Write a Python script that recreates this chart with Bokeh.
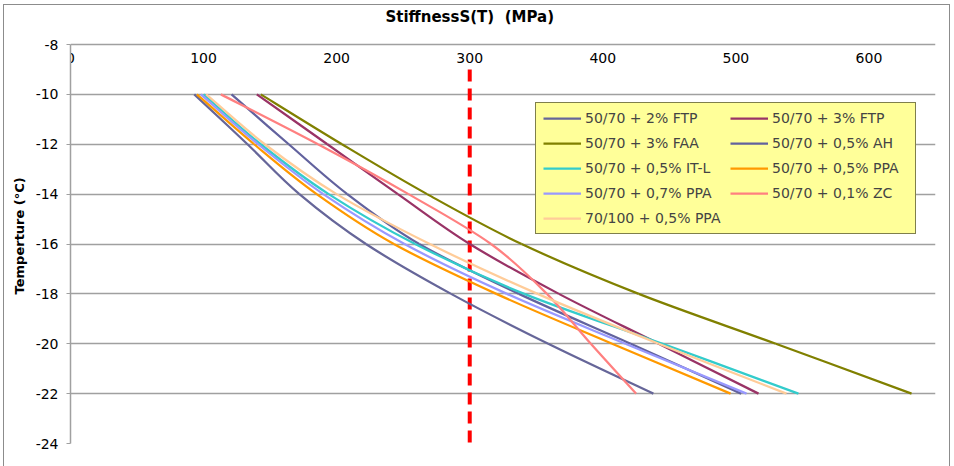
from bokeh.plotting import figure
from bokeh.models import (Range1d, LinearAxis, FixedTicker, Legend, LegendItem, Label)
from bokeh.embed import file_html
from bokeh.resources import INLINE

# ---- data ----
temps = [-10, -12, -14, -16, -18, -20, -22]
series_names = [
    "50/70 + 2% FTP", "50/70 + 3% FTP", "50/70 + 3% FAA", "50/70 + 0,5% AH",
    "50/70 + 0,5% IT-L", "50/70 + 0,5% PPA", "50/70 + 0,7% PPA", "50/70 + 0,1% ZC",
    "70/100 + 0,5% PPA",
]
s_2ftp = [93, 133, 172, 222, 286, 359, 438]
s_3ftp = [140, 193, 246, 300, 367, 442, 517]
s_3faa = [143, 204, 268, 339, 427, 530, 632]
s_ah = [121, 164, 208, 262, 337, 421, 504]
s_itl = [100, 143, 194, 259, 341, 445, 547]
s_05ppa = [95, 138, 185, 243, 320, 407, 496]
s_07ppa = [98, 141, 190, 251, 328, 417, 508]
s_zc = [113, 186, 254, 316, 358, 391, 425]
s_70100 = [102, 146, 200, 270, 351, 442, 538]
series_values = [s_2ftp, s_3ftp, s_3faa, s_ah, s_itl, s_05ppa, s_07ppa, s_zc, s_70100]
colors = ["#666699", "#993366", "#808000", "#62629E", "#33CCCC", "#FF9900",
          "#9999FF", "#FF8080", "#FFCC99"]

limit_x = [300, 300]
limit_y = [-9, -24.2]

x_ticks = [0, 100, 200, 300, 400, 500, 600]
y_ticks = [-24, -22, -20, -18, -16, -14, -12, -10, -8]
x_min, x_max = 0, 650
y_min, y_max = -24, -8

title_text = "StiffnessS(T)\u00a0 (MPa)"
y_title = "Temperture (\u00b0C)"

FONT = "DejaVu Sans"
GRID = "#A0A0A0"
BORDER = "#8C8C8C"

# layout in pixels
W, H = 954, 466
FRAME_TOP, AXIS_TOP, FRAME_BOTTOM = 5, 44, 443
# extend the value range upward so the title row sits inside the frame
px_per_deg = (FRAME_BOTTOM - AXIS_TOP) / (y_max - y_min)
y_view_top = y_max + (AXIS_TOP - FRAME_TOP) / px_per_deg
title_y = y_max + (AXIS_TOP - 16) / px_per_deg


def smooth_segments(xs, ys):
    """Bezier segments through the data points (Excel-style smoothed line)."""
    n = len(xs)
    seg = {k: [] for k in ("x0", "y0", "x1", "y1", "cx0", "cy0", "cx1", "cy1")}
    for i in range(n - 1):
        xa, ya_ = xs[max(i - 1, 0)], ys[max(i - 1, 0)]
        xb, yb = xs[i], ys[i]
        xc, yc = xs[i + 1], ys[i + 1]
        xd, yd = xs[min(i + 2, n - 1)], ys[min(i + 2, n - 1)]
        seg["x0"].append(xb); seg["y0"].append(yb)
        seg["x1"].append(xc); seg["y1"].append(yc)
        seg["cx0"].append(xb + (xc - xa) / 6.0); seg["cy0"].append(yb + (yc - ya_) / 6.0)
        seg["cx1"].append(xc - (xd - xb) / 6.0); seg["cy1"].append(yc - (yd - yb) / 6.0)
    return seg


p = figure(width=W, height=H, output_backend="svg", toolbar_location=None,
           x_range=Range1d(x_min, x_max), y_range=Range1d(y_min, y_view_top),
           x_axis_location=None, y_axis_location="left",
           min_border_left=70, min_border_top=FRAME_TOP, min_border_right=19,
           min_border_bottom=H - FRAME_BOTTOM)
p.title.visible = False
p.outline_line_color = None
p.background_fill_color = "white"
p.border_fill_color = "white"
p.border_fill_alpha = 0
p.styles = {
    "background": (
        f"linear-gradient({BORDER},{BORDER}) 3px 4px / 1px 480px no-repeat, "
        f"linear-gradient({BORDER},{BORDER}) 3px 4px / 947px 1px no-repeat, "
        f"linear-gradient({BORDER},{BORDER}) 949px 4px / 1px 480px no-repeat, "
        "white"
    )
}

# x axis drawn at the top line (y = -8), labels below it
xa = LinearAxis(fixed_location=y_max, ticker=FixedTicker(ticks=x_ticks))
xa.axis_line_color = None
xa.major_tick_out = 0
xa.major_tick_in = 0
xa.minor_tick_out = 0
xa.minor_tick_in = 0
xa.major_label_standoff = 8
xa.major_label_text_font = FONT
xa.major_label_text_font_size = "14px"
xa.major_label_text_color = "black"
p.add_layout(xa, "below")

ya = p.yaxis[0]
ya.ticker = FixedTicker(ticks=y_ticks)
ya.bounds = (y_min, y_max)
ya.major_label_overrides = {t: str(t) for t in y_ticks}
ya.axis_line_color = GRID
ya.axis_line_width = 1.5
ya.major_tick_out = 4
ya.major_tick_in = 0
ya.major_tick_line_color = GRID
ya.minor_tick_out = 0
ya.minor_tick_in = 0
ya.major_label_standoff = 8
ya.major_label_text_font = FONT
ya.major_label_text_font_size = "14px"
ya.major_label_text_color = "black"
ya.axis_label = y_title + "\u00a0" * 5
ya.axis_label_text_font = FONT
ya.axis_label_text_font_size = "13px"
ya.axis_label_text_font_style = "bold"
ya.axis_label_text_color = "black"
ya.axis_label_standoff = 6

p.xgrid.visible = False
p.ygrid.ticker = FixedTicker(ticks=y_ticks)
p.ygrid.grid_line_color = GRID
p.ygrid.grid_line_width = 1.5

# limit line at 300 MPa
p.line(limit_x, limit_y, line_color="#FF0000", line_width=4, line_dash="12 7")

renderers = []
for name, vals, col in zip(series_names, series_values, colors):
    seg = smooth_segments(vals, temps)
    r = p.bezier(source=seg, x0="x0", y0="y0", x1="x1", y1="y1",
                 cx0="cx0", cy0="cy0", cx1="cx1", cy1="cy1",
                 line_color=col, line_width=2.25)
    renderers.append(r)

items = [LegendItem(label=n, renderers=[r]) for n, r in zip(series_names, renderers)]
legend = Legend(items=items, location=(465, 209), orientation="horizontal", ncols=2,
                background_fill_color="#FFFF99", background_fill_alpha=1,
                border_line_color="black", border_line_width=1.5,
                label_text_font=FONT, label_text_font_size="14px",
                glyph_width=38, glyph_height=14, label_standoff=4,
                label_height=16, label_width=136,
                spacing=9, padding=7, margin=0)
p.add_layout(legend, "center")

p.add_layout(Label(x=300, y=title_y, text=title_text, text_align="center",
                   text_baseline="middle", text_font=FONT, text_font_size="15px",
                   text_font_style="bold", text_color="black"))

open("out.html", "w").write(file_html(p, INLINE))
